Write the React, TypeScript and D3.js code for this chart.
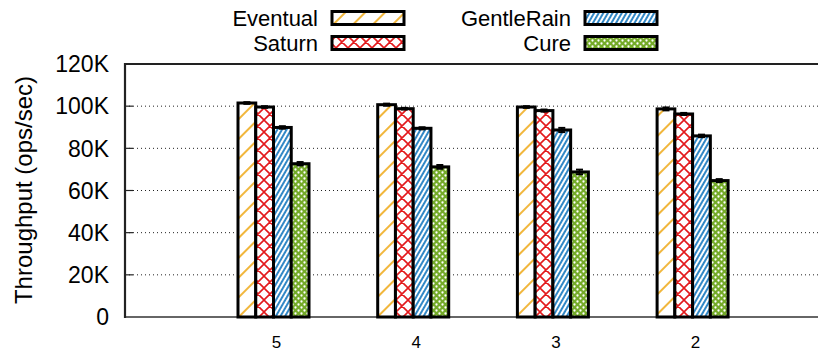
import React from "react";
import * as d3 from "d3";

// Throughput per configuration (K ops/sec)
const categories = ["5", "4", "3", "2"];
const seriesNames = ["Eventual", "Saturn", "GentleRain", "Cure"];
const eventual = [101.5, 100.7, 99.6, 98.7];
const saturn = [99.6, 98.8, 97.9, 96.3];
const gentleRain = [89.9, 89.5, 88.7, 85.9];
const cure = [72.7, 71.2, 68.8, 64.7];
const eventualErr = [0.4, 0.5, 0.4, 0.7];
const saturnErr = [0.4, 0.4, 0.5, 0.5];
const gentleRainErr = [0.6, 0.5, 1.0, 0.6];
const cureErr = [0.8, 0.9, 1.1, 0.7];
const yTicks = [0, 20, 40, 60, 80, 100, 120];

const W = 818;
const H = 354;
const left = 125;
const top = 64;
const bottom = 317;

const FONT = "'Liberation Sans', Arial, sans-serif";

const values = [eventual, saturn, gentleRain, cure];
const errors = [eventualErr, saturnErr, gentleRainErr, cureErr];
const patternIds = ["pEventual", "pSaturn", "pGentle", "pCure"];

export default function App() {
  const y = d3.scaleLinear().domain([0, 120]).range([bottom, top]);
  const x = d3.scaleLinear().domain([0, categories.length - 1]).range([273.5, 692.6]);
  const barW = 17.75;
  const groupW = barW * seriesNames.length;

  const fmt = (v: number) => (v === 0 ? "0" : `${v}K`);

  const legendRows = [
    { name: seriesNames[0], pid: patternIds[0], textX: 318, boxX: 332, cy: 18 },
    { name: seriesNames[1], pid: patternIds[1], textX: 318, boxX: 332, cy: 43 },
    { name: seriesNames[2], pid: patternIds[2], textX: 571, boxX: 585, cy: 18 },
    { name: seriesNames[3], pid: patternIds[3], textX: 571, boxX: 585, cy: 43 },
  ];

  return (
    <svg
      width={W}
      height={H}
      style={{ position: "absolute", left: 0, top: 0, background: "#fff" }}
      fontFamily={FONT}
    >
      <defs>
        <pattern id="pEventual" patternUnits="userSpaceOnUse" width={14} height={14} patternTransform="rotate(45)">
          <rect width={14} height={14} fill="#fff" />
          <line x1={1} y1={0} x2={1} y2={14} stroke="#efaa1a" strokeWidth={1.7} />
        </pattern>
        <pattern id="pSaturn" patternUnits="userSpaceOnUse" width={12} height={12}>
          <rect width={12} height={12} fill="#fff" />
          <path d="M0,0L12,12M12,0L0,12M-1,11L1,13M11,-1L13,1M-1,1L1,-1M11,13L13,11" stroke="#e31a1c" strokeWidth={1.6} />
        </pattern>
        <pattern id="pGentle" patternUnits="userSpaceOnUse" width={4} height={8} patternTransform="rotate(30)">
          <rect width={4} height={8} fill="#fff" />
          <line x1={1} y1={0} x2={1} y2={8} stroke="#1a7ac0" strokeWidth={1.8} />
        </pattern>
        <pattern id="pCure" patternUnits="userSpaceOnUse" width={6} height={6}>
          <rect width={6} height={6} fill="#74aa28" />
          <circle cx={1.5} cy={1.5} r={1.15} fill="#fff" />
          <circle cx={4.5} cy={4.5} r={1.15} fill="#fff" />
        </pattern>
      </defs>

      {/* grid lines */}
      {yTicks
        .filter((t) => t > 0 && t < 120)
        .map((t) => (
          <g key={`g${t}`}>
            <line x1={left} x2={W} y1={y(t)} y2={y(t)} stroke="#222" strokeWidth={1} strokeDasharray="1,3" />
            <line x1={left} x2={left + 8} y1={y(t)} y2={y(t)} stroke="#222" strokeWidth={1.2} />
          </g>
        ))}

      {/* frame */}
      <line x1={left} x2={W} y1={top} y2={top} stroke="#222" strokeWidth={2} />
      <line x1={left} x2={W} y1={bottom} y2={bottom} stroke="#333" strokeWidth={1.3} />
      <line x1={left} x2={left} y1={top - 1} y2={bottom + 1} stroke="#222" strokeWidth={2.2} />

      {/* bars */}
      {categories.map((c, ci) => {
        const x0 = x(ci) - groupW / 2;
        return (
          <g key={c}>
            {values.map((vals, si) => {
              const bx = x0 + si * barW;
              const v = vals[ci];
              const e = errors[si][ci];
              const cx = bx + barW / 2;
              return (
                <g key={si}>
                  <rect
                    x={bx}
                    y={y(v)}
                    width={barW}
                    height={y(0) - y(v)}
                    fill={`url(#${patternIds[si]})`}
                    stroke="#000"
                    strokeWidth={3}
                  />
                  <line x1={cx} x2={cx} y1={y(v - e)} y2={y(v + e)} stroke="#000" strokeWidth={1.5} />
                  <line x1={cx - 3.5} x2={cx + 3.5} y1={y(v + e)} y2={y(v + e)} stroke="#000" strokeWidth={2} />
                  <line x1={cx - 3.5} x2={cx + 3.5} y1={y(v - e)} y2={y(v - e)} stroke="#000" strokeWidth={2} />
                </g>
              );
            })}
          </g>
        );
      })}

      {/* y tick labels */}
      {yTicks.map((t) => (
        <text key={`t${t}`} x={109} y={y(t)} dy="0.36em" textAnchor="end" fontSize={23} fill="#000">
          {fmt(t)}
        </text>
      ))}

      {/* x tick labels */}
      {categories.map((c, ci) => (
        <text key={`x${c}`} x={x(ci) + 3} y={348} textAnchor="middle" fontSize={17} fill="#000">
          {c}
        </text>
      ))}

      {/* y axis title */}
      <text
        transform={`translate(32,190) rotate(-90)`}
        textAnchor="middle"
        fontSize={24}
        fill="#000"
      >
        Throughput (ops/sec)
      </text>

      {/* legend */}
      {legendRows.map((r) => (
        <g key={r.name}>
          <text x={r.textX} y={r.cy} dy="0.36em" textAnchor="end" fontSize={22} fill="#000">
            {r.name}
          </text>
          <rect x={r.boxX} y={r.cy - 6.5} width={72} height={13} fill={`url(#${r.pid})`} stroke="#000" strokeWidth={3} />
        </g>
      ))}
    </svg>
  );
}
